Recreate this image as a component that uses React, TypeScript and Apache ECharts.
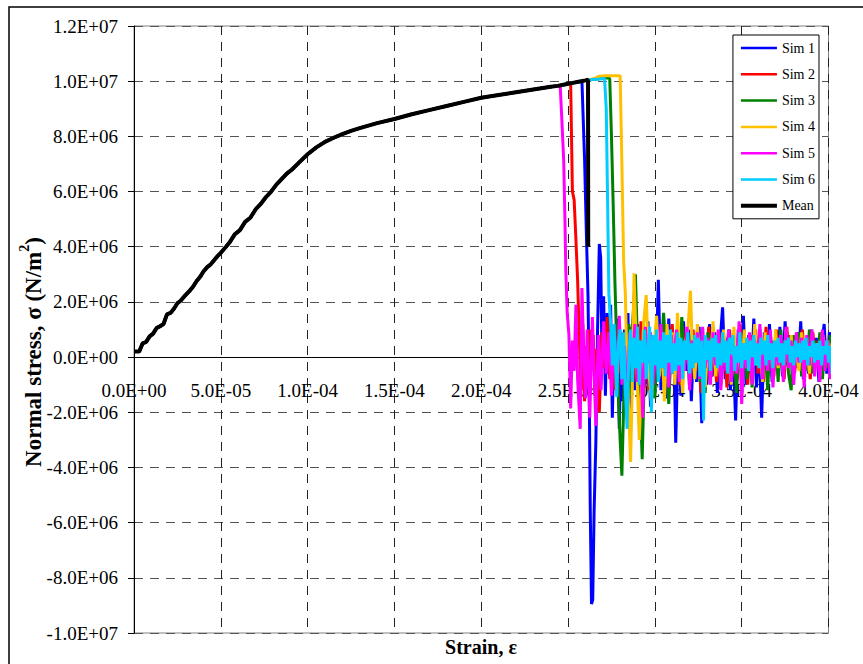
import React, { useEffect, useRef } from "react";
import * as echarts from "echarts";

// strain in micro-strain (x 1e-6), stress in MPa (x 1e6)
const SERIES_NAMES = ["Sim 1", "Sim 2", "Sim 3", "Sim 4", "Sim 5", "Sim 6", "Mean"];
const SERIES_COLORS = ["#0000ff", "#ff0000", "#008000", "#ffc000", "#ff00ff", "#00ccff", "#000000"];
const SERIES_WIDTHS = [3, 3, 3, 3, 3, 3, 4];

const RISE: [number, number][] = [
  [0, 0.2], [3, 0.2], [5, 0.5], [7, 0.55], [9, 0.75], [11, 0.85], [13, 1.05], [15, 1.12], [17, 1.2], [19, 1.55],
  [21, 1.6], [23, 1.75], [25, 1.95], [27, 2.05], [29, 2.2], [32, 2.4], [34, 2.55], [36, 2.75], [38, 2.9], [40, 3.1],
  [42, 3.25], [44, 3.35], [46, 3.5], [48, 3.65], [50, 3.78], [53, 4.0], [55, 4.15], [58, 4.45], [61, 4.6], [64, 4.9],
  [67, 5.05], [70, 5.35], [73, 5.55], [76, 5.8], [79, 6.0], [82, 6.25], [85, 6.45], [88, 6.65], [91, 6.8], [95, 7.05],
  [100, 7.35], [105, 7.6], [110, 7.8], [115, 7.95], [120, 8.08], [125, 8.2], [130, 8.3], [140, 8.48], [150, 8.63],
  [160, 8.8], [170, 8.95], [180, 9.1], [190, 9.25], [200, 9.4], [210, 9.5], [220, 9.6], [230, 9.7], [240, 9.8], [244, 9.83],
];

const SIM1_TAIL: [number, number][] = [
  [248, 9.88], [252, 9.93], [256, 9.98], [258, 10.0], [259.5, 7.2], [260.5, 4.6], [261.5, 2.2], [262.3, -2.0], [262.8, -5.6],
  [263.5, -8.95], [264.2, -8.8], [265, -5.6], [266, -3.1], [267, 1.0], [268, 4.1], [268.8, 3.6], [269.5, 0.2], [270.5, 2.2],
  [271.5, -1.4], [272.5, 1.6], [273.5, -0.6], [274.5, 1.9], [275.5, -2.2], [276.5, 0.6], [277.5, -1.0], [278.5, 1.4],
  [279.5, -2.6], [280.5, 0.4], [281.5, -1.6], [282.5, 1.0], [283.5, -0.8], [284.5, 1.6], [285.5, -2.4], [287, 0.8],
  [288.5, -1.2], [290, 1.2], [291.5, -2.6], [293, 0.5], [294.5, -1.0], [296, 1.3], [297.5, -1.8], [299, 0.6], [300.5, -0.9],
  [302, 2.8], [303.5, -1.2], [305, 0.9], [306.5, -1.5], [308, 1.4], [309.5, -0.6], [311, 0.3], [312, -3.1], [313.5, 0.7],
  [315, -1.4], [316.5, 1.3], [318, -0.5], [319.5, 1.0], [321, -1.6], [322.5, 0.8], [324, -0.9], [325.5, 1.1], [327, -2.4],
  [328.5, 0.6], [330, -1.0], [331.5, 1.2], [333, -0.7], [334.5, 0.9], [336, -1.3], [337.5, 0.5], [339, 1.8], [340.5, -0.8],
  [342, 0.7], [343.5, -1.2], [345, 0.4], [346.5, -2.3], [348, 1.0], [349.5, -0.5], [351, 1.5], [352.5, -1.0], [354, 0.8],
  [355.5, -0.6], [357, 1.4], [358.5, -1.1], [360, 0.5], [361.5, -2.2], [363, 0.9], [364.5, -0.4], [366, 1.2], [367.5, -0.9],
  [369, 0.6], [370.5, -0.5], [372, 1.1], [373.5, -0.7], [375, 1.3], [376.5, -0.3], [378, 0.8], [379.5, -1.0], [381, 0.6],
  [382.5, -0.4], [384, 1.3], [385.5, -0.8], [387, 0.5], [388.5, -0.6], [390, 1.0], [391.5, -0.5], [393, 0.7], [394.5, -0.9],
  [396, 0.4], [397.5, 1.2], [399, -0.6], [400.5, 0.9], [402, 0.3],
];

const SIM2_TAIL: [number, number][] = [
  [248, 9.88], [251.5, 9.92], [252.5, 6.0], [253.5, 5.7], [254.5, 4.3], [255.5, 2.8], [256.5, 0.6], [257.5, -1.2], [258.5, 1.2],
  [259.5, -1.6], [260.5, 0.4], [261.5, -0.9], [262.5, 1.0], [263.5, -0.2], [264.5, 0.8], [265.5, -1.4], [266.5, 0.3],
  [268, -2.0], [269.5, 0.9], [271, -0.4], [272.5, 1.45], [274, -0.8], [275.5, 0.5], [277, -1.2], [278.5, 1.0], [280, -0.6],
  [281.5, 0.9], [283, -1.0], [284.5, 0.3], [286, 1.1], [287.5, -0.9], [289, 0.6], [290.5, -0.5], [292, 1.3], [293.5, -0.7],
  [295, 0.4], [296.5, -1.2], [298, 0.8], [299.5, -0.3], [301, 1.0], [302.5, -0.8], [304, 0.5], [305.5, -1.1], [307, 0.9],
  [308.5, -0.4], [310, 1.2], [311.5, -0.6], [313, 0.3], [314.5, -1.0], [316, 1.1], [317.5, -0.2], [319, 0.7], [320.5, -0.9],
  [322, 1.0], [323.5, -0.5], [325, 0.6], [326.5, -1.3], [328, 0.8], [329.5, -0.3], [331, 1.1], [332.5, -0.7], [334, 0.5],
  [335.5, -0.9], [337, 0.9], [338.5, -0.4], [340, 0.6], [341.5, -1.1], [343, 1.0], [344.5, -0.2], [346, 0.7], [347.5, -0.8],
  [349, 1.2], [350.5, -0.5], [352, 0.4], [353.5, -1.0], [355, 0.8], [356.5, -0.3], [358, 1.0], [359.5, -0.6], [361, 0.5],
  [362.5, -0.9], [364, 1.1], [365.5, -0.4], [367, 0.6], [368.5, -0.7], [370, 1.0], [371.5, -0.3], [373, 0.5], [374.5, -0.8],
  [376, 1.1], [377.5, -0.2], [379, 0.7], [380.5, -0.6], [382, 0.9], [383.5, -0.3], [385, 1.0], [386.5, -0.5], [388, 0.4],
  [389.5, -0.8], [391, 0.9], [392.5, -0.2], [394, 0.6], [395.5, -0.5], [397, 0.8], [398.5, -0.3], [400, 0.5], [401.5, -0.1],
  [402, 0.2],
];

const SIM3_TAIL: [number, number][] = [
  [248, 9.88], [252, 9.93], [256, 9.97], [260, 10.02], [264, 10.06], [268, 10.09], [272, 10.12], [274, 10.1], [275, 8.0],
  [276, 5.5], [277, 2.7], [278, 0.5], [279, -1.5], [280, -3.0], [281, -4.3], [282, -1.8], [283, 0.6], [284, -0.8], [285, 1.2],
  [286, -1.4], [287, 1.0], [288.8, 3.0], [290, 0.4], [291.5, -1.5], [292.7, -3.7], [294, -0.4], [295.5, 1.1], [297, -0.9],
  [298.5, 0.6], [300, -1.5], [301.5, 0.8], [303, -0.6], [305, 1.6], [306.5, 0.2], [308, -1.7], [309.5, 0.5], [311, -0.4],
  [312.5, 0.9], [314, -0.8], [315.5, 1.45], [317, -0.3], [318.5, 0.6], [320, -1.1], [321.5, 0.8], [323, -0.5], [324.5, 1.0],
  [326, -0.9], [327.5, 0.4], [329, -1.3], [330.5, 0.9], [332, -0.2], [333.5, 1.1], [335, -0.6], [336.5, 0.5], [338, -1.0],
  [339.5, 0.8], [341, -0.4], [342.5, 1.0], [344, -0.9], [345.5, 0.3], [347, -1.3], [348.5, 0.7], [350, -0.2], [351.5, 0.9],
  [353, -0.8], [354.5, 0.5], [356, -1.1], [357.5, 0.8], [359, -0.3], [360.5, 1.0], [362, -0.7], [363.5, 0.4], [365, -1.2],
  [366.5, 0.9], [368, -0.4], [369.5, 0.6], [371, -0.9], [372.5, 1.0], [374, -0.3], [375.5, 0.7], [377, -0.6], [378.5, -1.2],
  [380, 0.8], [381.5, -0.2], [383, 0.9], [384.5, -0.7], [386, 0.4], [387.5, -0.5], [389, 1.0], [390.5, -0.6], [392, 0.6],
  [393.5, -0.3], [395, 0.9], [396.5, -0.8], [398, 0.5], [399.5, -0.4], [401, 0.8], [402, -0.4],
];

const SIM4_TAIL: [number, number][] = [
  [248, 9.88], [252, 9.93], [256, 9.98], [260, 10.03], [264, 10.08], [266, 10.12], [268, 10.18], [272, 10.2], [276, 10.2],
  [280, 10.2], [281, 7.0], [282, 3.5], [283, 2.3], [284, -0.5], [285, -2.0], [286, -3.8], [287, -1.0], [288, 3.04], [289, 1.0],
  [290, -1.2], [291, -3.0], [292.5, -0.6], [293.5, 1.2], [295, 2.25], [296.5, -0.5], [298, -1.6], [299.5, 0.4], [301, 1.5],
  [302.5, -0.7], [304, 0.6], [305.5, -1.6], [307, 1.2], [308.5, -0.3], [310, 0.9], [311.5, -1.0], [313, 1.6], [314.5, 0.0],
  [316, -1.3], [317.5, 0.5], [319, 1.0], [320.5, 2.4], [321.5, 0.5], [323, -0.8], [324.5, 1.2], [326, -0.4], [327.5, 0.9],
  [329, -1.1], [330.5, 0.6], [332, -0.3], [333.5, 1.3], [335, -0.7], [336.5, 0.4], [338, -0.9], [339.5, 1.0], [341, -0.2],
  [342.5, 0.6], [344, -1.0], [345.5, 1.1], [347, -0.5], [348.5, 0.3], [350, -0.8], [351.5, 1.0], [353, -0.4], [354.5, 0.8],
  [356, -0.6], [357.5, 1.2], [359, -0.3], [360.5, 0.5], [362, -0.9], [363.5, 0.9], [365, -0.2], [366.5, 0.7], [368, -0.8],
  [369.5, 1.0], [371, -0.4], [372.5, 0.5], [374, -0.6], [375.5, 1.0], [377, -0.3], [378.5, 0.8], [380, -0.7], [381.5, 0.4],
  [383, -0.5], [384.5, 0.9], [386, -0.2], [387.5, 0.7], [389, -0.6], [390.5, 0.8], [392, -0.3], [393.5, 0.5], [395, -0.7],
  [396.5, 0.9], [398, -0.1], [399.5, 0.6], [401, -0.3], [402, 0.5],
];

const SIM5_TAIL: [number, number][] = [
  [245.5, 9.8], [246.5, 8.5], [247.5, 7.1], [248.2, 5.0], [248.7, 3.15], [249.5, 1.6], [250.5, 0.8], [251.5, -1.86],
  [252.5, 0.6], [253.5, -0.5], [254.5, 1.9], [255.5, -0.8], [257, -2.6], [258, 2.5], [259, 0.2], [260, -1.5], [261, 1.0],
  [262.5, -2.2], [264, 1.45], [265, -0.5], [266, -2.5], [267.5, 0.8], [269, -1.2], [270.5, 1.3], [272, -0.6], [273.5, 0.9],
  [275, -1.4], [276.5, 1.0], [278, -0.7], [279.5, 1.5], [281, -1.0], [282.5, 0.4], [284, -1.5], [285.5, 0.9], [287, -0.3],
  [288.5, 1.2], [290, -0.9], [291.5, 0.6], [293, -2.2], [294.5, 1.1], [296, -0.2], [297.5, 0.9], [299, -1.0], [300.5, 0.5],
  [302, -0.6], [303.5, 1.2], [305, -0.4], [306.5, 0.7], [308, -1.1], [309.5, 0.8], [311, -0.3], [312.5, 1.0], [314, -0.9],
  [315.5, 0.5], [317, -0.5], [318.5, 1.1], [320, -1.2], [321.5, 0.6], [323, -0.2], [324.5, 0.9], [326, -0.8], [327.5, 1.1],
  [329, -0.4], [330.5, 0.7], [332, -1.0], [333.5, 0.9], [335, -0.3], [336.5, 1.0], [338, -1.2], [339.5, 0.6], [341, -0.5],
  [342.5, 1.0], [344, -0.9], [345.5, 0.4], [347, -0.6], [348.5, 1.3], [350, -1.7], [351.5, 0.5], [353, -0.4], [354.5, 0.9],
  [356, -1.0], [357.5, 0.6], [359, -0.2], [360.5, 1.2], [362, -0.8], [363.5, 0.4], [365, -0.5], [366.5, 1.0], [368, -1.1],
  [369.5, 0.5], [371, -0.3], [372.5, 0.8], [374, -0.9], [375.5, 1.1], [377, -0.4], [378.5, 0.6], [380, -1.0], [381.5, 0.9],
  [383, -0.2], [384.5, 0.7], [386, -1.1], [387.5, 0.8], [389, -0.3], [390.5, 1.0], [392, -0.7], [393.5, 0.4], [395, -0.9],
  [396.5, 1.0], [398, -0.5], [399.5, 0.6], [401, -0.8], [402, 0.3],
];

const SIM6_TAIL: [number, number][] = [
  [248, 9.88], [252, 9.93], [256, 9.98], [260, 10.02], [264, 10.06], [268, 10.08], [271, 10.1], [272, 9.0], [272.8, 5.5],
  [273.5, 2.3], [274.5, 1.2], [275.5, -0.3], [276.5, 1.2], [278, -1.44], [279, 0.5], [280, 1.0], [281, -0.8], [282, 0.9],
  [283, -1.2], [284, -2.6], [285, 0.2], [286, 1.0], [287, -0.9], [288, 0.7], [289, -0.4], [290, 1.1], [291, -1.0], [292, 0.6],
  [293, -0.2], [294, 1.0], [295, -0.8], [296, 0.3], [297, 1.1], [298, -2.0], [299, 0.8], [300, -0.3], [301, 1.0], [302, -0.9],
  [303, 0.6], [304, -0.4], [305, 0.9], [306, -0.7], [307, 0.8], [308, -0.2], [309, 1.0], [310, -0.6], [311, 0.5], [312, -0.5],
  [313, 0.9], [314, -0.3], [315, 0.7], [316, -0.8], [317, 0.6], [318, -0.1], [319, 0.9], [320, -0.6], [321, 0.5], [322, -0.4],
  [323, 0.8], [324, -0.2], [325, 0.7], [326, -0.7], [327, 0.6], [328, -2.3], [329, 0.8], [330, -0.1], [331, 0.6], [332, -0.5],
  [333, 0.7], [334, 0.0], [335, 0.8], [336, -0.4], [337, 0.5], [338, -0.3], [339, 0.9], [340, -0.2], [341, 0.6], [342, -0.6],
  [343, 0.7], [344, 0.1], [345, 0.8], [346, -0.5], [347, 0.4], [348, -0.2], [349, 0.9], [350, -0.4], [351, 0.5], [352, -0.1],
  [353, 0.7], [354, -0.5], [355, 0.6], [356, 0.0], [357, 0.8], [358, -0.3], [359, 0.5], [360, -0.4], [361, 0.7], [362, 0.1],
  [363, 0.6], [364, -0.3], [365, 0.8], [366, -0.1], [367, 0.5], [368, -0.4], [369, 0.6], [370, 0.0], [371, 0.7], [372, -0.2],
  [373, 0.5], [374, -0.3], [375, 0.6], [376, 0.1], [377, 0.7], [378, -0.2], [379, 0.4], [380, -0.3], [381, 0.6], [382, 0.0],
  [383, 0.5], [384, -0.2], [385, 0.6], [386, -0.1], [387, 0.7], [388, -0.3], [389, 0.4], [390, 0.0], [391, 0.6], [392, -0.2],
  [393, 0.5], [394, -0.1], [395, 0.6], [396, -0.3], [397, 0.4], [398, 0.1], [399, 0.6], [400, -0.2], [401, 0.4], [402, -0.6],
];

const MEAN_TAIL: [number, number][] = [
  [248, 9.88], [252, 9.93], [256, 9.98], [260, 10.03], [261.5, 10.05], [261.6, 4.0],
];

const TAILS = [SIM1_TAIL, SIM2_TAIL, SIM3_TAIL, SIM4_TAIL, SIM5_TAIL, SIM6_TAIL, MEAN_TAIL];

const X_MIN = 0;
const X_MAX = 4e-4;
const X_STEP = 5e-5;
const Y_MIN = -1e7;
const Y_MAX = 1.2e7;
const Y_STEP = 2e6;

const FONT = '"Liberation Serif", "Times New Roman", serif';

const GRID_TOP = 26;
const GRID_BOTTOM = 31;
const CHART_H = 664;

function sci(v: number): string {
  const s = Number(v).toExponential(1);
  const [m, e] = s.split("e");
  const sign = e[0] === "-" ? "-" : "+";
  const digits = e.replace(/^[+-]/, "").padStart(2, "0");
  return `${m}E${sign}${digits}`;
}

export default function App() {
  const ref = useRef<HTMLDivElement>(null);
  useEffect(() => {
    if (!ref.current) return;
    const chart = echarts.init(ref.current, undefined, { renderer: "svg" });
    const series = SERIES_NAMES.map((name, i) => ({
      name,
      type: "line",
      symbol: "none",
      showSymbol: false,
      data: RISE.concat(TAILS[i]).map(([s, v]) => [s * 1e-6, v * 1e6]),
      lineStyle: { color: SERIES_COLORS[i], width: SERIES_WIDTHS[i] },
      itemStyle: { color: SERIES_COLORS[i] },
      z: 2 + i * 0.01,
    }));
    // distance from the plot bottom up to the zero line, so the x axis sits at stress = 0
    const plotH = CHART_H - GRID_TOP - GRID_BOTTOM;
    const zeroOffset = (plotH * (0 - Y_MIN)) / (Y_MAX - Y_MIN);
    chart.setOption({
      animation: false,
      backgroundColor: "#ffffff",
      grid: {
        left: 134,
        top: GRID_TOP,
        right: 34.5,
        bottom: GRID_BOTTOM,
        show: true,
        borderColor: "#808080",
        borderWidth: 1,
      },
      xAxis: {
        type: "value",
        min: X_MIN,
        max: X_MAX,
        interval: X_STEP,
        position: "bottom",
        offset: -zeroOffset,
        axisLine: { onZero: false, lineStyle: { color: "#000", width: 1 } },
        axisTick: { show: false },
        axisLabel: {
          formatter: (v: number) => sci(v),
          fontFamily: FONT,
          fontSize: 19,
          color: "#000",
          margin: 24,
          showMinLabel: true,
          showMaxLabel: true,
        },
        splitLine: { show: true, lineStyle: { type: [9, 7], color: "#222", width: 1 } },
      },
      yAxis: {
        type: "value",
        min: Y_MIN,
        max: Y_MAX,
        interval: Y_STEP,
        axisLine: { show: true, onZero: false, lineStyle: { color: "#000", width: 1 } },
        axisTick: { show: true, inside: false, length: 6, lineStyle: { color: "#000" } },
        axisLabel: {
          formatter: (v: number) => sci(v),
          fontFamily: FONT,
          fontSize: 19,
          color: "#000",
          margin: 16,
        },
        splitLine: { show: true, lineStyle: { type: [9, 7], color: "#555", width: 1 } },
      },
      legend: {
        data: SERIES_NAMES.map((name, i) => ({
          name,
          icon: i === 6 ? "path://M0,0L36,0L36,4L0,4Z" : "path://M0,0L36,0L36,2.5L0,2.5Z",
        })),
        orient: "vertical",
        right: 44,
        top: 35,
        itemWidth: 36,
        itemHeight: 14,
        itemGap: 12.3,
        padding: [6, 4, 6, 8],
        borderColor: "#000",
        borderWidth: 1,
        borderRadius: 0,
        backgroundColor: "#fff",
        selectedMode: false,
        z: 10,
        textStyle: { fontFamily: FONT, fontSize: 14, color: "#000" },
      },
      graphic: [
        {
          type: "rect",
          silent: true,
          shape: { x: 9, y: 7, width: 900, height: 700 },
          style: { fill: "none", stroke: "#000", lineWidth: 1.5 },
        },
        {
          type: "text",
          silent: true,
          x: 481,
          y: 647,
          style: {
            text: "Strain, ε",
            fontFamily: FONT,
            fontSize: 20,
            fontWeight: "bold",
            fill: "#000",
            align: "center",
            verticalAlign: "middle",
          },
        },
        {
          type: "text",
          silent: true,
          x: 31,
          y: 352,
          rotation: Math.PI / 2,
          style: {
            text: "{b|Normal stress, σ (N/m}{s|2}{b|)}",
            fontFamily: FONT,
            fontSize: 23,
            fontWeight: "bold",
            fill: "#000",
            align: "center",
            verticalAlign: "middle",
            rich: {
              b: { fontFamily: FONT, fontSize: 23, fontWeight: "bold", fill: "#000", lineHeight: 28, verticalAlign: "bottom" },
              s: { fontFamily: FONT, fontSize: 14, fontWeight: "bold", fill: "#000", lineHeight: 28, verticalAlign: "top" },
            },
          },
        },
      ],
      series,
    });
    return () => chart.dispose();
  }, []);
  return (
    <div
      ref={ref}
      style={{ position: "absolute", left: 0, top: 0, width: 863, height: 664, background: "#fff" }}
    />
  );
}
